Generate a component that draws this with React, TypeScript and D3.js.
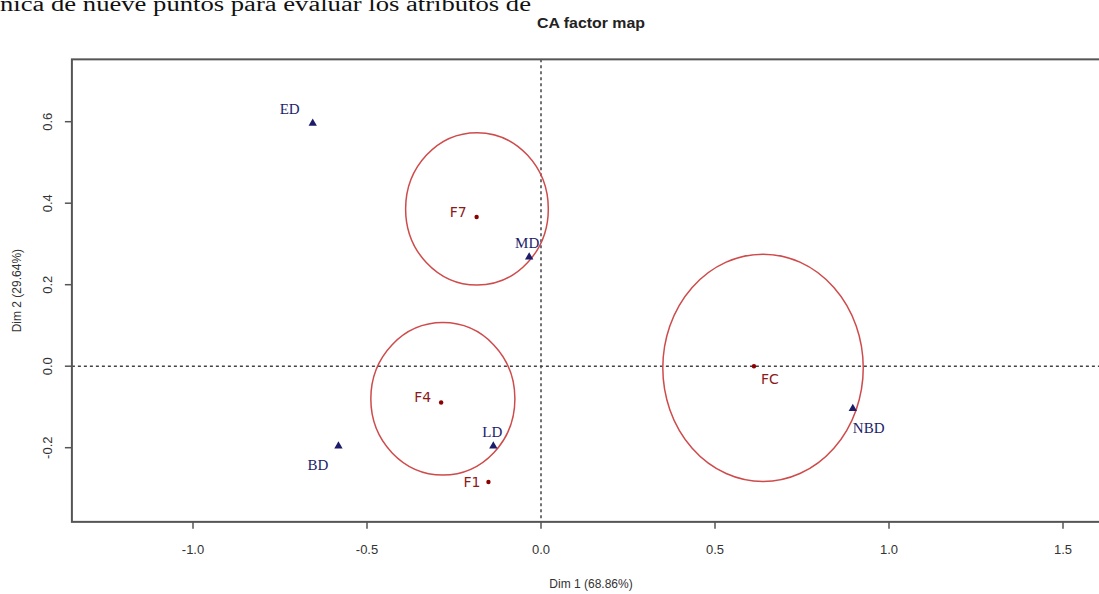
import React from 'react';
import * as d3 from 'd3';

// column points (factors) - red
const rowLabels = ['F7', 'F4', 'F1', 'FC'];
const rowX = [-0.185, -0.287, -0.151, 0.612];
const rowY = [0.366, -0.089, -0.284, 0.0];

// row points (attributes) - blue
const colLabels = ['ED', 'MD', 'LD', 'BD', 'NBD'];
const colX = [-0.656, -0.034, -0.137, -0.582, 0.896];
const colY = [0.596, 0.268, -0.196, -0.196, -0.104];

// confidence ellipses (center x, center y, radius x, radius y)
const ellCx = [-0.184, -0.282, 0.638];
const ellCy = [0.386, -0.080, -0.004];
const ellRx = [0.205, 0.207, 0.288];
const ellRy = [0.187, 0.187, 0.279];

const xTicks = [-1.0, -0.5, 0.0, 0.5, 1.0, 1.5];
const yTicks = [-0.2, 0.0, 0.2, 0.4, 0.6];

const W = 1099;
const H = 594;

export default function App() {
  const x = d3.scaleLinear().domain([-1, 1.5]).range([193, 1063]);
  const y = d3.scaleLinear().domain([-0.2, 0.6]).range([447.7, 121.7]);

  const xMin = -1.348, xMax = 1.62;
  const yMin = -0.382, yMax = 0.753;
  const left = x(xMin), right = x(xMax), top = y(yMax), bottom = y(yMin);

  const red = '#8b1a1a';
  const blue = '#1c1c6b';
  const sans = '"Liberation Sans", Arial, sans-serif';
  const serif = '"Liberation Serif", "Times New Roman", serif';
  const tri = d3.symbol().type(d3.symbolTriangle).size(30)() as string;
  const fmt = (t: number) => t.toFixed(1);

  // label offsets relative to each point (pixels)
  const rowLab: [number, number, string][] = [
    [-10, 0, 'end'], [-10, 0, 'end'], [-8, 5, 'end'], [7, 18, 'start'],
  ];
  const colLab: [number, number, string][] = [
    [-13, -9, 'end'], [-2, -9, 'middle'], [-1, -9, 'middle'], [-10, 24, 'end'], [0, 24, 'start'],
  ];

  return (
    <svg width={W} height={H} style={{ position: 'absolute', left: 0, top: 0, background: '#fff' }}>
      <text x={0} y={11} fontFamily={serif} fontSize={20} fill="#111" textLength={531} lengthAdjust="spacingAndGlyphs">
        nica de nueve puntos para evaluar los atributos de
      </text>
      <text x={591} y={28} textAnchor="middle" fontFamily={sans} fontWeight="bold" fontSize={15} fill="#222" textLength={108} lengthAdjust="spacingAndGlyphs">
        CA factor map
      </text>

      {/* zero lines */}
      <line x1={left} x2={right} y1={y(0)} y2={y(0)} stroke="#444" strokeWidth={1.5} strokeDasharray="3,3" />
      <line x1={x(0)} x2={x(0)} y1={top} y2={bottom} stroke="#444" strokeWidth={1.5} strokeDasharray="3,3" />

      {/* ellipses */}
      {ellCx.map((cx, i) => (
        <ellipse key={i} cx={x(cx)} cy={y(ellCy[i])} rx={x(ellRx[i]) - x(0)} ry={y(0) - y(ellRy[i])}
          fill="none" stroke="#cf4b4b" strokeWidth={1.5} />
      ))}

      {/* box */}
      <rect x={left} y={top} width={right - left} height={bottom - top} fill="none" stroke="#555" strokeWidth={2} />

      {/* x axis */}
      {xTicks.map(t => (
        <g key={t}>
          <line x1={x(t)} x2={x(t)} y1={bottom} y2={bottom + 7} stroke="#555" strokeWidth={1.5} />
          <text x={x(t)} y={554} textAnchor="middle" fontFamily={sans} fontSize={13} fill="#333">
            {fmt(t)}
          </text>
        </g>
      ))}
      <text x={591} y={588} textAnchor="middle" fontFamily={sans} fontSize={12} fill="#333">Dim 1 (68.86%)</text>

      {/* y axis */}
      {yTicks.map(t => (
        <g key={t}>
          <line x1={left - 7} x2={left} y1={y(t)} y2={y(t)} stroke="#555" strokeWidth={1.5} />
          <text transform={`translate(52,${y(t)}) rotate(-90)`} textAnchor="middle" fontFamily={sans} fontSize={13} fill="#333">
            {fmt(t)}
          </text>
        </g>
      ))}
      <text transform={`translate(21,${(top + bottom) / 2}) rotate(-90)`} textAnchor="middle" fontFamily={sans} fontSize={12} fill="#333">
        Dim 2 (29.64%)
      </text>

      {/* factor points */}
      {rowLabels.map((lab, i) => (
        <g key={lab}>
          <circle cx={x(rowX[i])} cy={y(rowY[i])} r={2.2} fill="#8b0000" />
          <text x={x(rowX[i]) + rowLab[i][0]} y={y(rowY[i]) + rowLab[i][1]} textAnchor={rowLab[i][2] as any}
            fontFamily='"DejaVu Sans", Verdana, sans-serif' fontSize={14} fill={red}>{lab}</text>
        </g>
      ))}

      {/* attribute points */}
      {colLabels.map((lab, i) => (
        <g key={lab}>
          <path d={tri} transform={`translate(${x(colX[i])},${y(colY[i])})`} fill={blue} />
          <text x={x(colX[i]) + colLab[i][0]} y={y(colY[i]) + colLab[i][1]} textAnchor={colLab[i][2] as any}
            fontFamily={serif} fontSize={15} fill={blue}>{lab}</text>
        </g>
      ))}
    </svg>
  );
}
